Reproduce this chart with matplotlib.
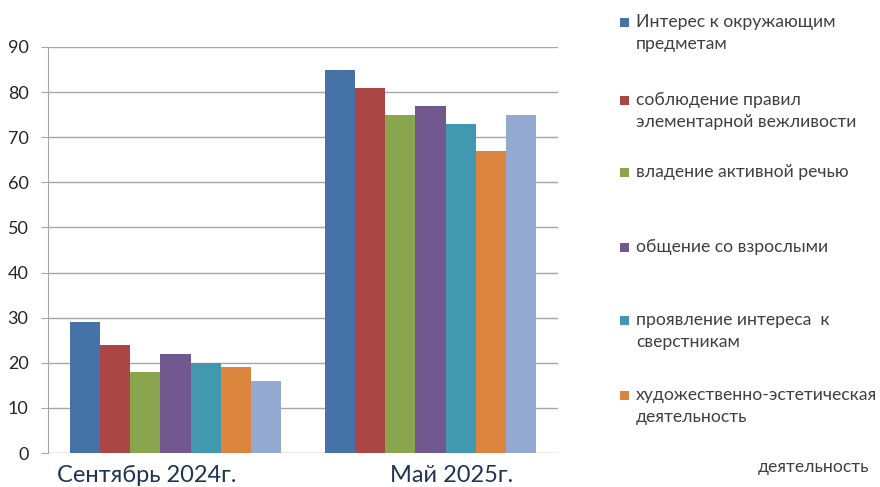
import matplotlib
matplotlib.use("Agg")
import matplotlib.pyplot as plt
import numpy as np
from matplotlib.patches import Rectangle

plt.rcParams["font.family"] = ["Lato", "DejaVu Sans"]

# Data
periods = ["Сентябрь 2024г.", "Май 2025г."]
series_names = [
    "Интерес к окружающим\nпредметам",
    "соблюдение правил\nэлементарной вежливости",
    "владение активной речью",
    "общение со взрослыми",
    "проявление интереса  к\nсверстникам",
    "художественно-эстетическая\nдеятельность",
    "деятельность",
]
interest = [29, 85]
politeness = [24, 81]
speech = [18, 75]
adults = [22, 77]
peers = [20, 73]
art = [19, 67]
activity = [16, 75]
values = [interest, politeness, speech, adults, peers, art, activity]

colors = ["#4572A7", "#AA4643", "#89A54E", "#71588F", "#4198AF", "#DB843D", "#93A9CF"]

fig = plt.figure(figsize=(8.8, 4.87), dpi=100)
W, H = 880, 487
# axes: x 48..558 px, y 47..453 px
ax = fig.add_axes([48 / W, 1 - 453 / H, 510 / W, 406 / H])

x = np.arange(len(periods))
bw = 0.118
for i, (vals, col) in enumerate(zip(values, colors)):
    ax.bar(x + (i - 3) * bw, vals, bw, color=col, edgecolor="none", zorder=3)

ax.set_xlim(-0.5, 1.5)
ax.set_ylim(0, 90)
ax.set_yticks(range(0, 91, 10))
ax.yaxis.grid(True, color="#A6A6A6", lw=1, zorder=0)
ax.set_xticks([])
for s in ["top", "right", "bottom"]:
    ax.spines[s].set_visible(False)
ax.spines["left"].set_color("#A6A6A6")
ax.tick_params(axis="y", length=5, color="#A6A6A6", labelsize=13,
               labelcolor="#262626", pad=9)

# category labels
fig.text(57 / W, 1 - 476 / H, periods[0], fontsize=17, color="#1F3552",
         ha="left", va="center")
fig.text(390 / W, 1 - 476 / H, periods[1], fontsize=17, color="#1F3552",
         ha="left", va="center")

# legend (manual, irregular spacing as in the reference)
leg_y = [22, 100, 172, 247, 320, 395]
for name, col, yy in zip(series_names[:6], colors[:6], leg_y):
    fig.patches.append(Rectangle((620 / W, 1 - (yy + 5) / H), 9 / W, 9 / H,
                                 transform=fig.transFigure, facecolor=col,
                                 edgecolor="none"))
    fig.text(636 / W, 1 - (yy - 8) / H, name, fontsize=12.7, color="#404040",
             ha="left", va="top", linespacing=1.45)
fig.text(758 / W, 1 - 467 / H, series_names[6], fontsize=12.7, color="#404040",
         ha="left", va="center")

fig.savefig("out.png", dpi=100, facecolor="white")
